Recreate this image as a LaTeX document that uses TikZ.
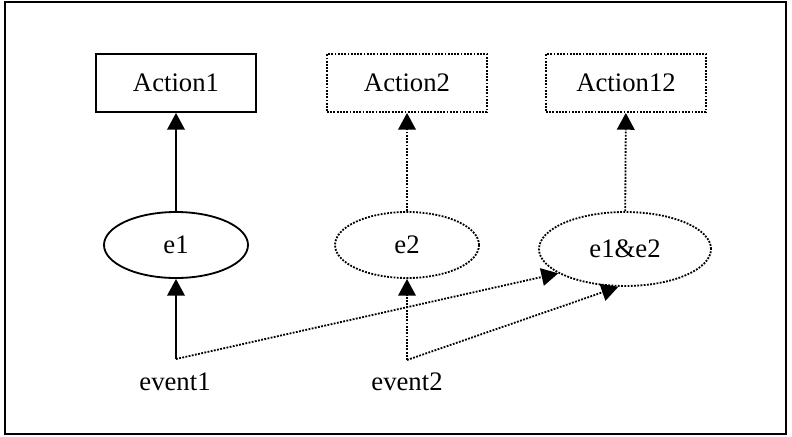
\documentclass[tikz,border=0pt]{standalone}
\usepackage{fontspec}
\setmainfont{Liberation Serif}
\usepackage{tikz}
\usetikzlibrary{shapes.geometric, arrows.meta}

\begin{document}
\begin{tikzpicture}[
  font=\fontsize{19}{23}\selectfont,
  line width=1.3pt,
  act/.style={draw, minimum width=40mm, minimum height=14.5mm, inner sep=0pt},
  actd/.style={act, densely dotted},
  ev/.style={draw, ellipse, minimum width=36mm, minimum height=16.5mm, inner sep=0pt},
  evd/.style={ev, densely dotted},
  sarr/.style={-{Triangle[length=4.2mm,width=4.4mm]}},
  darr/.style={-{Triangle[length=4.2mm,width=4.4mm]}, densely dotted}
]
\useasboundingbox (0,0) rectangle (19.8,-10.9);
\draw (0.125,-0.05) rectangle (19.65,-10.85);
\node[act]  (a1)  at (4.4,-2.075)    {Action1};
\node[actd] (a2)  at (10.175,-2.075) {Action2};
\node[actd] (a12) at (15.65,-2.075)  {Action12};
\node[ev]  (e1)  at (4.4,-6.125)    {e1};
\node[evd] (e2)  at (10.175,-6.125) {e2};
\node[evd, minimum width=43mm, minimum height=18.5mm] (e12) at (15.625,-6.225) {e1\&e2};
\coordinate (j1) at (4.4,-8.975);
\coordinate (j2) at (10.175,-9.0);
\node (ev1) at (4.375,-9.55)  {event1};
\node (ev2) at (10.175,-9.55) {event2};
\draw[sarr] (e1) -- (a1);
\draw[sarr] (j1) -- (e1.south);
\draw[darr] (e2) -- (a2);
\draw[darr] (e12) -- (a12);
\draw[darr] (j2) -- (e2.south);
\draw[darr] (j1) -- (e12.200);
\draw[darr] (j2) -- (e12.260);
\end{tikzpicture}
\end{document}
